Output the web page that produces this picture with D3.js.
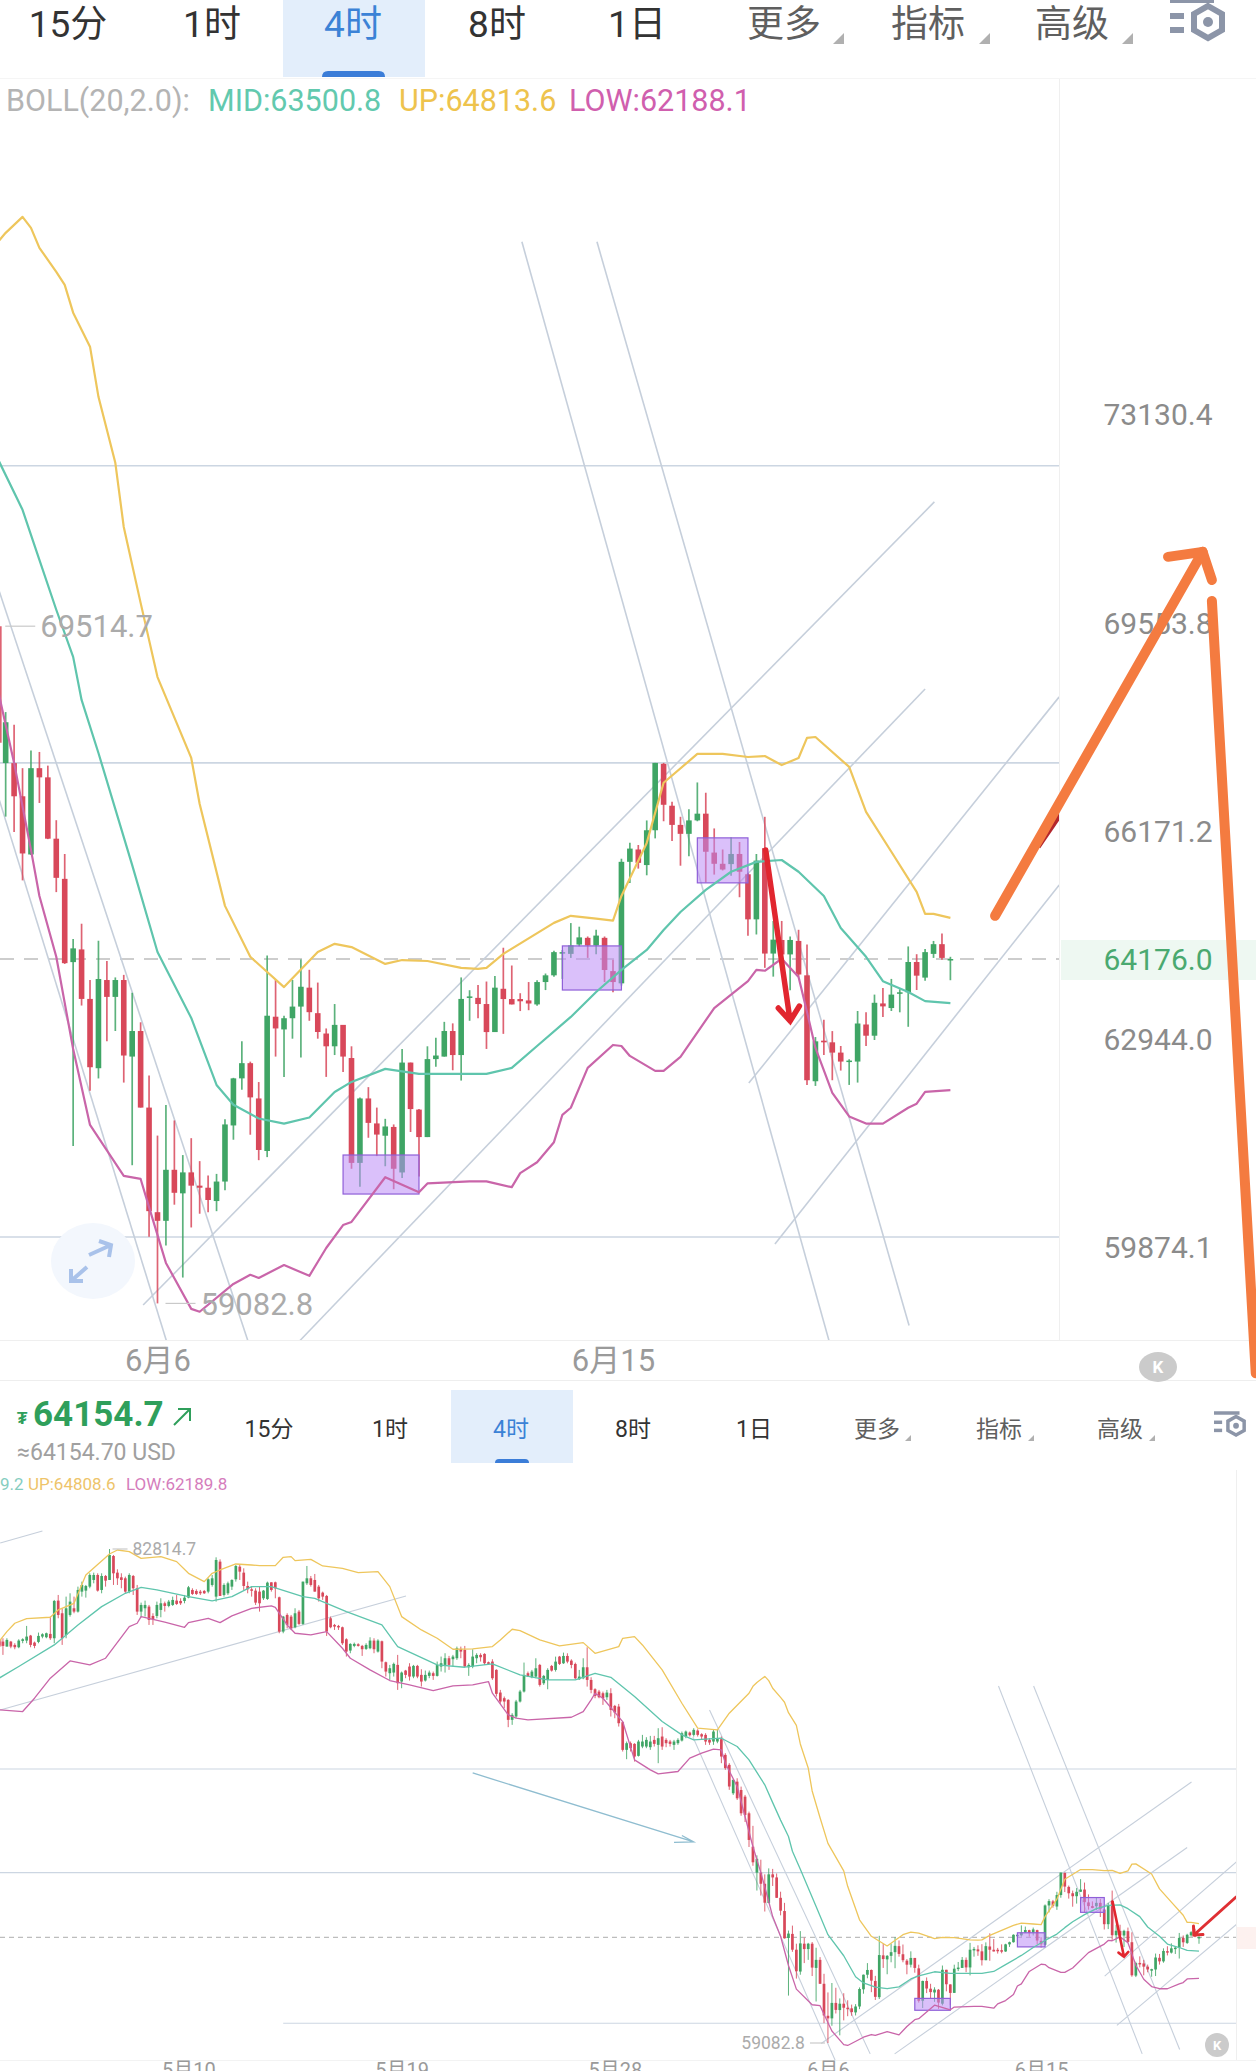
<!DOCTYPE html>
<html lang="zh">
<head>
<meta charset="utf-8">
<title>BTC/USDT 4时 K线 BOLL</title>
<script src="https://cdn.jsdelivr.net/npm/d3@7/dist/d3.min.js"></script>
<style>
  html, body { margin: 0; padding: 0; background: #fff; overflow: hidden; }
  svg { display: block; }
  text { font-family: Roboto, "Noto Sans CJK SC", sans-serif; }
</style>
</head>
<body>
<svg id="chart" width="1256" height="2071" viewBox="0 0 1256 2071"></svg>
<script>
// 4-hour candles as [open, close, high, low], oldest first.
const candlesMayEarly = [
[78367,78207,78479,78127],[78367,78159,78527,77727],[78127,78447,78527,78127],[78367,78127,78399,78047],[78207,78095,78287,77999],
[78095,78415,78479,78047],[78399,78479,78527,78287],[78415,78607,79119,78287],[78655,78207,78687,78095],[78319,78159,78367,78047],
[78351,78639,78799,78287],[78607,78719,78767,78527],[78575,78767,78799,78527],[78735,78527,79567,78447],[78527,80319,80367,78287],
[80335,79647,80607,79487],[79727,78527,79967,78207],[78687,79967,80527,78527],[79647,80287,80687,79567],[79967,79807,80527,79727],
[79807,80847,81007,79759],[80767,81087,81247,80527],[80815,81039,81087,80479],[81007,81567,81647,80927],[81327,81567,81679,81167],
[81567,80815,81647,80767],[80847,81519,81647,80687],[81519,81295,81567,81007],[81327,82527,82814.7,81327],[82479,81647,82527,81087],
[81679,81407,81839,81087],[81455,81327,81647,80927],[81407,80767,81487,80687],[80767,81567,81647,80687],[81519,80927,81567,80607],
[80927,79807,81087,79647],[79807,80127,80239,79535],[79967,80127,80335,79567],[80047,79407,80127,79167],[79599,79439,79727,79167],
[79599,80127,80287,79487],[79887,80207,80447,79535],[80207,80079,80287,79807],[80079,80287,80367,80015],[80127,80367,80527,80079],
[80335,80175,80607,80127],[80319,80207,80447,80127],[80319,80479,80607,80207],[80479,80975,81039,80447],[80847,80655,80927,80607],
[80799,80655,80879,80607],[80767,80687,80847,80607],[80799,80687,80847,80655],[80767,81359,81407,80687],[81087,81407,81567,81007],
[80527,82287,82415,80287],[82207,80559,82319,80559],[80607,81087,81167,80527],[80687,81167,81247,80607],[81007,81327,81359,80847],
[81359,81999,82047,81247],[81967,81727,82047,81327],[81679,81039,81887,80847],[81039,80879,81247,80687],[80879,80815,81007,80527],
[80815,80239,80927,80127],[80767,80207,81007,79807],[80447,80815,80847,80367]
];
const candlesMayMid = [
[80415,81199,81247,80367],[81215,80847,81215,80767],[81215,80927,81247,80447],[80495,78847,80527,78767],[78847,79567,79599,78767],
[79647,79167,79727,79007],[79567,79007,79647,78927],[79055,79727,79967,79007],[79807,79215,79887,79167],[79215,81247,81247,79167],
[81167,81407,81999,81087],[81407,81087,81519,81007],[81327,80767,81615,80767],[81007,80447,81087,80287],[80719,80527,80767,80367],
[80559,78847,80607,78639],[79487,79055,79567,79007],[79167,79087,79215,78927],[79119,79055,79167,78927],[79055,78287,79087,78207],
[78479,77887,78527,77647],[77935,78255,78287,77807],[78159,78255,78319,78095],[78239,78159,78287,78127],[78159,77999,78207,77679],
[78015,78207,78287,77967],[78047,78415,78575,77999],[78415,77999,78527,77807],[77887,78415,78479,77839],[78383,77407,78415,77087],
[77375,76927,77407,76687],[76847,77087,77247,76527],[76879,77295,77359,76687],[77247,76367,77727,76047],[76447,76879,76927,76127],
[76975,76767,77007,76607],[77167,76687,77327,76495],[76687,77199,77247,76607],[77199,76687,77247,76607],[76767,76447,77039,76207],
[76495,76767,76975,76447],[76719,76879,76975,76607],[76847,76719,76927,76527],[76719,77247,77407,76687],[77167,77327,77647,76927],
[77247,77567,77807,76879],[77567,77247,77679,77007],[77519,77647,77727,77167],[77567,78047,78127,77487],[78015,77887,78127,77567],
[77967,77167,78159,77135],[77135,77247,77327,76719],[77167,77647,77999,77087],[77567,77727,77807,77327],[77727,77615,77807,77407],
[77775,77327,77807,77247],[77375,77295,77407,77247],[77407,76607,77519,76527],[77007,75855,77039,75727],[75919,75487,76047,75375],
[75647,75487,75727,75167],[75567,74607,75599,74255],[74607,74847,74927,74367],[74767,75487,75567,74687],[75487,75967,76047,75439],
[75967,76767,77359,75919],[76847,76687,76927,76687]
];
const candlesMayLate = [
[76653,76925,77005,76605],[76685,77085,77565,76605],[77245,76285,77293,76205],[76365,76717,76765,76285],[76525,77005,77085,76077],
[77197,76973,77245,76925],[77005,77405,77645,76925],[77645,77293,77677,77245],[77325,77677,77837,77293],[77677,77405,77805,77325],
[77453,77245,77517,77085],[77293,76605,77357,76557],[76557,76685,77005,76525],[76605,77133,77565,76557],[77133,76525,78093,76205],
[76525,76045,76653,75885],[76077,75757,76125,75645],[75965,75693,76045,75645],[75885,75645,75965,75325],[75693,75917,76045,75565],
[75885,75085,76125,74765],[75277,74957,75325,74685],[75245,74445,75373,74285],[74493,73165,74525,73085],[73165,73485,73565,72717],
[73485,73245,73565,73085],[73453,72845,73485,72605],[72877,73565,73645,72845],[73325,73565,73885,73245],[73325,73645,73773,73245],
[73293,73565,73837,73165],[73645,73453,73837,73325],[73405,73725,74205,72525],[73805,73325,74253,73165],[73645,73485,73725,73293],
[73565,73453,73645,73325],[73405,73565,73645,73165],[73485,73645,73725,73405],[73613,73965,74045,73565],[73805,74045,74093,73725],
[73997,73869,74045,73805],[73885,74125,74205,73805],[74093,73885,74157,73805],[73917,73805,73965,73645],[73885,73565,73965,73405],
[73645,73517,73725,73405],[73565,74045,74125,73405],[73565,73725,74125,73485],[73677,72845,73805,72525],[72925,72285,73005,72205],
[72445,71405,72525,71245],[71080,71720,71760,71000],[71638,70838,71800,70758],[71238,70118,71400,70000],[70918,70038,71000,69700],
[70118,68837,70200,68500]
];
const candlesJuneDrop = [
[68513,67764,69514.7,67596],[67267,67930,68096,66408],[67267,66733,67888,66165],[66733,65823,67185,65399],[65807,67185,67472,65799],
[67185,67037,67447,66626],[67037,66057,67226,66050],[66057,65439,66351,65215],[65423,64112,65815,64100],[64128,64340,64485,61360],
[64324,63564,64722,63463],[63564,62530,63853,62178],[62515,63869,64458,62362],[63853,63595,64144,62922],[63595,63853,63893,63076],
[63853,62706,63932,62300],[62690,63076,63658,61076],[63076,61927,63208,61927],[61927,60406,62406,60037],[60391,60266,61512,59082.8],
[60266,61009,61965,59911],[61009,60673,61736,60500],[60665,60971,61225,59451],[60971,60777,61474,60170],[60777,60747,61136,60369],
[60747,60568,60927,60391],[60553,60837,60949,60406],[60837,61677,61753,60710],[61662,62363,62371,61451],[62363,62591,62921,62193],
[62591,62079,62614,61525],[62063,61300,62308,61150],[61285,63308,64230,61195],[63293,63115,63853,62690],[63100,63270,63308,62385],
[63270,63447,63853,62960],[63447,63750,64167,62675],[63736,63362,64010,63231],[63347,63061,63814,62960],[63038,62845,63115,62385],
[62845,63169,63486,62713],[63169,62690,63169,62460],[62668,61110,62845,61024],[61110,62063,62078,60762],[62063,61700,62232,61480],
[61692,61527,61927,61210],[61510,61647,61760,61061],[61640,61024,61677,60725],[60970,62600,62805,60890],[62600,61905,62600,61565],
[61897,61490,61905,60910],[61490,62652,62845,61490],[62652,62706,62975,62538],[62690,63076,63215,62690],[63076,62713,63192,62485],
[62713,63564,63893,62330],[63580,63602,63697,63231],[63580,63486,63775,63270],[63486,63060,63830,62805],[63060,63736,63916,63060]
];
const candlesJuneRebound = [
[63719,63562,64350,63033],[63562,63480,64076,63480],[63562,63528,63651,63379],[63541,63494,63822,63392],[63480,63822,63850,63460],
[63822,63925,63953,63699],[63925,64282,64302,63905],[64262,64282,64316,63870],[64255,64385,64732,64193],[64399,64510,64676,64371],
[64503,64385,64524,64193],[64385,64538,64628,64248],[64503,64007,64524,63822],[63990,63822,64165,63665],[63802,65691,65740,63768],
[65691,65900,65992,65356],[65886,65675,65957,65584],[65640,66191,66347,65479],[66191,67270,67270,66062],[67255,66597,67270,66334],
[66582,66276,66647,66020],[66276,66134,66405,65630],[66134,66348,66525,65780],[66348,66455,66955,66334],[66455,65850,66790,65365],
[65837,65660,66220,65490],[65660,65570,65886,65555],[65655,65815,66077,65470],[65815,65535,66005,65135],[65495,64790,65510,64535],
[64790,65710,65815,64555],[65907,64260,66405,64040],[64260,64475,64765,63905],[64470,64247,64765,64040],[64247,64470,64524,63695],
[64455,63938,64628,63905],[63925,62335,64400,62265],[62320,62920,62985,62250],[62930,62905,63245,62715],[62905,62750,63075,62335],
[62750,62615,62850,62480],[62615,62630,62650,62265],[62615,63190,63380,62300],[63175,63005,63360,62850],[63005,63505,63630,62940],
[63495,63450,63730,63290],[63425,63630,63870,63380],[63645,63665,63712,63360],[63665,64130,64370,63140],[64130,63920,64250,63700],
[63890,64282,64330,63840],[64255,64405,64455,64193],[64405,64193,64570,64165],[64160,64176,64210,63850]
];

// Bollinger band vertices as [candle number, price].
const bollUp = [
[0,78367],[2,78847],[4,79247],[7,79471],[13,79535],[15,79887],[19,80207],[22,81567],[28,82575],[30,82767],[33,82687],[36,82367],
[41,82447],[45,82207],[48,81647],[52,81247],[54,81647],[56,81807],[60,82095],[64,82047],[66,82015],[70,82015],[72,82415],[74,82447],
[75,82255],[79,82319],[82,82000],[87,81887],[91,81679],[96,81727],[99,81007],[102,79567],[107,78927],[111,78527],[115,77999],
[120,78015],[125,78127],[127,78447],[130,78959],[132,78893],[137,78445],[142,78157],[148,78317],[151,77805],[157,78125],[158,78525],
[161,78605],[163,78205],[168,77005],[173,75405],[177,74205],[182,74125],[185,74925],[190,75885],[191,76217],[192,76400],[194,76694],
[195,76490],[196,76125],[198,75688],[199,75452],[200,74950],[202,74340],[203,73450],[205,72295],[206,71190],[208,69905],[210,68670],
[214,67350],[215,66610],[218,65000],[221,64210],[225,63745],[229,64285],[231,64410],[233,64360],[237,64100],[239,64160],[242,64145],
[246,64040],[248,64025],[249,64040],[251,64255],[257,64735],[259,64845],[262,64800],[264,64770],[265,65155],[268,65990],[270,66950],
[274,67415],[277,67415],[280,67365],[282,67380],[284,67235],[286,67350],[287,67675],[288,67690],[292,67205],[294,66485],[297,65850],
[300,65220],[301,64875],[302,64875],[304,64813.6]
];
const bollMid = [
[0,76607],[5,77167],[14,78207],[20,79167],[26,80047],[32,80687],[36,80975],[40,80847],[48,80527],[54,80319],[59,80527],[64,81007],
[69,81007],[77,80527],[80,80447],[88,79807],[97,79167],[101,78127],[111,77247],[118,77135],[125,77295],[132,76765],[139,76525],
[146,76525],[151,76845],[155,76653],[161,75725],[168,74525],[173,73885],[176,73645],[183,73725],[187,73325],[190,72685],[191,72385],
[194,71485],[196,70630],[198,69790],[200,69005],[201,68295],[203,67430],[207,65640],[210,64285],[214,63275],[217,62265],[219,61970],
[222,61765],[225,61690],[228,61780],[231,62160],[233,62310],[237,62505],[241,62430],[246,62430],[249,62430],[252,62520],[255,62850],
[259,63290],[262,63670],[265,64010],[268,64316],[270,64625],[272,64905],[275,65250],[278,65535],[281,65690],[284,65720],[286,65535],
[289,65155],[291,64655],[294,64210],[296,63835],[299,63670],[301,63530],[304,63500.8]
];
const bollLow = [
[0,75087],[6,75007],[9,75647],[13,76607],[18,77439],[23,77247],[27,77567],[33,79087],[35,79247],[36,79567],[42,79300],[47,79055],
[48,79279],[53,79487],[56,79279],[59,79599],[64,79967],[69,80079],[70,80015],[73,79167],[75,78767],[79,78687],[83,78847],[87,78047],
[89,77567],[94,77007],[99,76495],[104,76287],[110,76015],[115,76239],[120,76287],[124,76447],[125,75887],[129,74847],[131,74687],
[134,74607],[145,74733],[148,75005],[150,75565],[151,75885],[153,75645],[158,74525],[161,72685],[165,72205],[167,72013],[172,72125],
[175,72765],[178,73005],[181,73197],[183,73165],[184,72525],[187,71405],[191,68510],[193,67270],[195,65880],[196,65155],[198,64210],
[200,62805],[202,61670],[206,60920],[208,60875],[209,60465],[211,59660],[214,59005],[215,58965],[219,59360],[221,59490],[222,59445],
[225,59630],[228,59475],[230,59874],[232,60205],[233,60250],[237,60900],[241,60680],[242,60810],[247,60840],[249,60840],[252,60755],
[253,60960],[255,61120],[257,61415],[258,61820],[259,61925],[261,62520],[264,62865],[265,62850],[266,62700],[269,62475],[270,62475],
[272,62685],[276,63425],[280,63835],[281,64010],[282,63995],[284,64180],[286,63900],[287,63365],[288,62820],[290,62145],[292,61795],
[294,61690],[296,61690],[299,61925],[300,61985],[301,62160],[304,62188.1]
];

// Axis labels and chart annotations, all in candle number / price terms.
const upperPriceTicks = [73130.4, 69553.8, 66171.2, 62944.0, 59874.1];
const lastPriceUpper = 64176.0;
const lastPriceLower = 64154.7;
const dateTickCandles = [48, 102, 156, 210, 264];
const dateTickLabels = ["5月10", "5月19", "5月28", "6月6", "6月15"];
const levelPrices = [72244, 67270, 60033];
const levelStartLower = [0, 0, 72];
const channelLines = [
  [[175.8,73780],[211.8,58270]], [[180,75080],[220.7,58560]],
  [[253.2,76235],[289.6,58560]], [[262.1,76235],[299.1,58770]],
  [[208.3,59060],[302.1,71620]], [[226.9,58560],[301,68475]],
  [[280.1,62292],[316.9,68345]], [[283.2,59932],[316.9,65328]]
];
const trendLinesEarly = [
  [[0.3,83100],[11,83680]], [[0.3,75080],[103.1,80557]]
];
const flowArrow = [[120,72054],[176,68740]];
const flowArrowHead = [[171,68720],[176,68740],[173,69050]];
const consolidationBoxes = [
  [232,241,61226,60655], [258,265,64378,63700], [274,280,66070,65360]
];
const dropArrow = [[282.1,65879],[285,63228]];
const dropArrowHead = [[283.6,63425],[285,63228],[286.1,63455]];
const hiddenTrace = [[314.4,65926],[317,66436]];
const lowerRiseArrow = [[302.7,64271],[313.4,66097]];
const lowerRiseHead = [[302.6,64700],[302.7,64271],[305,64290]];
const projectionRise = [[309.3,64845],[333.9,70766]];
const projectionRiseHead = [[329.8,70682],[333.9,70766],[335,70290]];
const projectionFall = [[335,69938],[340.2,58100]];
const tabLabels = ["15分", "1时", "4时", "8时", "1日", "更多", "指标", "高级"];

const candles = [...candlesMayEarly, ...candlesMayMid, ...candlesMayLate, ...candlesJuneDrop, ...candlesJuneRebound]
  .map((r, i) => ({ i, open: r[0], close: r[1], high: r[2], low: r[3] }));

const UP_COLOR = "#3fa565", DOWN_COLOR = "#d8485a";
const svg = d3.select("#chart");
svg.append("rect").attr("width", 1256).attr("height", 2071).attr("fill", "#fff");
const defs = svg.append("defs");
defs.append("clipPath").attr("id", "clipUpper").append("rect").attr("x", 0).attr("y", 130).attr("width", 1059).attr("height", 1210);
defs.append("clipPath").attr("id", "clipLower").append("rect").attr("x", 0).attr("y", 1470).attr("width", 1236).attr("height", 591);

// Scales: the large panel is logarithmic and zoomed in, the small one linear and full range.
const xUpper = d3.scaleLinear().domain([191, 304]).range([-2.77, 950.4]);
const yUpper = d3.scaleLog().domain([59874.1, 73130.4]).range([1248, 415]);
const xLower = d3.scaleLinear().domain([0, 304]).range([-1, 1199]);
const yLower = d3.scaleLinear().domain([59082.8, 82814.7]).range([2043, 1549]);

function drawTabs(g, o) {
  g.append("rect").attr("x", o.hi[0]).attr("y", o.hi[1]).attr("width", o.hi[2]).attr("height", o.hi[3]).attr("fill", "#e3eefb");
  g.append("path").attr("fill", "#3b7dd8")
    .attr("d", `M${o.bar[0]},${o.bar[1] + o.bar[3]}q0,${-o.bar[3]} ${o.bar[3]},${-o.bar[3]}h${o.bar[2] - 2 * o.bar[3]}q${o.bar[3]},0 ${o.bar[3]},${o.bar[3]}z`);
  g.selectAll("text.tab").data(tabLabels).join("text").attr("class", "tab")
    .attr("x", (d, i) => o.cx[i]).attr("y", o.y).attr("text-anchor", "middle")
    .attr("font-size", o.size).attr("font-family", "'Noto Sans CJK SC'")
    .attr("fill", (d, i) => i === 2 ? "#3b82d6" : i > 4 ? "#5f5f5f" : "#333");
  g.selectAll("text.tab").text(d => d);
  g.selectAll("path.tri").data(o.tri).join("path").attr("class", "tri").attr("fill", "#b0b0b0")
    .attr("d", d => `M${d[0]},${d[1] + d[2]}h${d[2]}v${-d[2]}z`);
  const ic = g.append("g").attr("transform", `translate(${o.icon[0]},${o.icon[1]}) scale(${o.icon[2]})`);
  ic.selectAll("rect").data([0, 16, 30]).join("rect").attr("x", 0).attr("y", d => d - 3)
    .attr("width", (d, i) => i === 1 ? 14 : i === 2 ? 14 : 44).attr("height", 6).attr("fill", "#8c95a8");
  ic.append("path").attr("fill", "none").attr("stroke", "#8c95a8").attr("stroke-width", 6)
    .attr("d", "M38,6l14,8v16l-14,8l-14,-8v-16z");
  ic.append("circle").attr("cx", 38).attr("cy", 22).attr("r", 5).attr("fill", "#8c95a8");
}

function drawPanel(o) {
  const g = svg.append("g");
  const plot = g.append("g").attr("clip-path", `url(#${o.clip})`);
  const { x, y } = o;

  // Horizontal levels and current price line
  plot.selectAll("line.level").data(levelPrices).join("line").attr("class", "level")
    .attr("x1", (d, i) => o.levelStart ? x(levelStartLower[i]) : 0).attr("x2", o.right)
    .attr("y1", d => y(d)).attr("y2", d => y(d))
    .attr("stroke", "#ccd6e2").attr("stroke-width", o.levelW);
  plot.append("line").attr("x1", 0).attr("x2", o.right).attr("y1", y(o.last)).attr("y2", y(o.last))
    .attr("stroke", "#bdbdbd").attr("stroke-width", o.levelW).attr("stroke-dasharray", o.dash);

  // Hand-drawn channels
  const seg = d3.line().x(d => x(d[0])).y(d => y(d[1]));
  plot.selectAll("path.channel").data([...channelLines, ...trendLinesEarly]).join("path").attr("class", "channel")
    .attr("d", seg).attr("fill", "none").attr("stroke", "#c6cfdb").attr("stroke-width", o.levelW);
  plot.append("path").attr("d", seg(flowArrow) + seg(flowArrowHead)).attr("fill", "none").attr("stroke", "#8fbdd0").attr("stroke-width", 1.3);

  // Candles; a wick sitting on the panel's left edge stays just inside it
  const bw = o.bodyW;
  const wickX = d => Math.max(0.8, x(d.i));
  const marks = plot.selectAll("g.candle").data(candles.filter(c => x(c.i) > -10)).join("g").attr("class", "candle");
  marks.append("line").attr("x1", wickX).attr("x2", wickX)
    .attr("y1", d => y(d.high)).attr("y2", d => y(d.low))
    .attr("stroke", d => d.close >= d.open ? UP_COLOR : DOWN_COLOR).attr("stroke-width", o.wickW).attr("stroke-opacity", .85);
  marks.append("rect").attr("x", d => x(d.i) - bw / 2).attr("width", bw)
    .attr("y", d => y(Math.max(d.open, d.close)))
    .attr("height", d => Math.max(1.5, Math.abs(y(d.open) - y(d.close))))
    .attr("fill", d => d.close >= d.open ? UP_COLOR : DOWN_COLOR);

  // Consolidation boxes
  plot.selectAll("rect.box").data(consolidationBoxes).join("rect").attr("class", "box")
    .attr("x", d => x(d[0])).attr("width", d => x(d[1]) - x(d[0]))
    .attr("y", d => y(d[2])).attr("height", d => y(d[3]) - y(d[2]))
    .attr("fill", "#bc8cf5").attr("fill-opacity", .55).attr("stroke", "#8f5fd8").attr("stroke-width", 1.2);

  // Bollinger bands
  const band = d3.line().x(d => x(d[0])).y(d => y(d[1]));
  [[bollUp, "#eec65c"], [bollMid, "#5fc5ad"], [bollLow, "#c965a9"]].forEach(([pts, col]) => {
    plot.append("path").datum(pts.filter(d => x(d[0]) > -40)).attr("d", band)
      .attr("fill", "none").attr("stroke", col).attr("stroke-width", o.bandW).attr("stroke-linejoin", "round");
  });

  // Drop arrow
  plot.append("path").attr("d", seg(dropArrow) + seg(dropArrowHead)).attr("fill", "none")
    .attr("stroke", "#e1262f").attr("stroke-width", o.arrowW).attr("stroke-linecap", "round");

  // High and low callouts
  const hi = candles.find(c => c.high === o.calloutHigh);
  const lo = candles.find(c => c.low === 59082.8);
  const fmt = d3.format(".1f");
  [[hi, hi.high, false], [lo, lo.low, o.lowOnLeft]].forEach(([c, v, left]) => {
    const cy = y(v);
    const dir = left ? -1 : 1;
    const x1 = x(c.i) + dir * o.calloutGap[0];
    const x2 = x1 + dir * o.calloutGap[1];
    g.append("line").attr("x1", x1).attr("x2", x2).attr("y1", cy).attr("y2", cy).attr("stroke", "#c9c9c9").attr("stroke-width", 1.2);
    g.append("text").attr("x", x2 + dir * 5).attr("y", cy + o.calloutSize * .36)
      .attr("text-anchor", left ? "end" : "start")
      .attr("font-size", o.calloutSize).attr("fill", "#ababab").text(fmt(v));
  });

  return { g, plot, seg };
}

// ---- large panel ----
drawTabs(svg.append("g"), {
  hi: [283, 0, 142, 77], bar: [322, 71, 63, 6],
  cx: [68, 212, 353, 497, 637, 784, 928, 1072], y: 37, size: 37,
  tri: [[833, 33, 11], [979, 33, 11], [1122, 33, 11]], icon: [1170, 0, 1]
});
[["BOLL(20,2.0):", 6, "#b4b4b4"], ["MID:63500.8", 208, "#62c9ae"], ["UP:64813.6", 399, "#eec34d"], ["LOW:62188.1", 569, "#d05fae"]]
  .forEach(([t, px, col]) => svg.append("text").attr("x", px).attr("y", 111).attr("font-size", 30.5).attr("fill", col).text(t));

svg.append("rect").attr("x", 1061).attr("y", 940).attr("width", 195).attr("height", 40).attr("fill", "#eef8f2");
svg.append("line").attr("x1", 1059.5).attr("x2", 1059.5).attr("y1", 78).attr("y2", 1340).attr("stroke", "#efefef");
svg.append("line").attr("x1", 0).attr("x2", 1256).attr("y1", 78.5).attr("y2", 78.5).attr("stroke", "#f5f5f5");
svg.append("line").attr("x1", 0).attr("x2", 1256).attr("y1", 1340.5).attr("y2", 1340.5).attr("stroke", "#efefef");
svg.append("line").attr("x1", 0).attr("x2", 1256).attr("y1", 1380.5).attr("y2", 1380.5).attr("stroke", "#eeeeee");

const upperAxis = d3.axisRight(yUpper).tickValues(upperPriceTicks).tickSize(0).tickPadding(99).tickFormat(d3.format(".1f"));
const upperAxisG = svg.append("g").attr("transform", "translate(1059,0)").call(upperAxis);
upperAxisG.select(".domain").remove();
upperAxisG.selectAll("text").attr("text-anchor", "middle").attr("font-size", 30).attr("fill", "#8b8b8b").attr("font-family", "Roboto");
svg.append("text").attr("x", 1158).attr("y", yUpper(lastPriceUpper) + 11).attr("text-anchor", "middle")
  .attr("font-size", 30).attr("fill", "#4aa970").text(d3.format(".1f")(lastPriceUpper));

const upperDates = d3.axisBottom(xUpper).tickValues(dateTickCandles.slice(3)).tickSize(0)
  .tickFormat(d => dateTickLabels[dateTickCandles.indexOf(d)]);
const upperDatesG = svg.append("g").attr("transform", "translate(0,1346)").call(upperDates);
upperDatesG.select(".domain").remove();
upperDatesG.selectAll("text").attr("font-size", 31).attr("fill", "#9a9a9a").attr("font-family", "Roboto, 'Noto Sans CJK SC'");

const upperPanel = drawPanel({
  x: xUpper, y: yUpper, clip: "clipUpper", right: 1059, last: lastPriceUpper, levelW: 1.6, dash: "14 10",
  bodyW: 5.6, wickW: 1.7, bandW: 2.2, arrowW: 5.5, calloutHigh: 69514.7, calloutGap: [8, 30], calloutSize: 31
});
upperPanel.plot.append("path").attr("d", upperPanel.seg(hiddenTrace)).attr("stroke", "#b3262c").attr("stroke-width", 5);

// Reset-view control
const expand = svg.append("g").attr("transform", "translate(93,1261)");
expand.append("ellipse").attr("rx", 42).attr("ry", 38).attr("fill", "#f3f7fd");
expand.append("path").attr("fill", "none").attr("stroke", "#a9c2ea").attr("stroke-width", 4)
  .attr("d", "M-4,-6L18,-16M6,-20L18,-16L16,-4M-6,6L-22,20M-22,8L-22,20L-10,20");

function kButton(cx, cy, rx, ry, size) {
  const k = svg.append("g").attr("transform", `translate(${cx},${cy})`);
  k.append("ellipse").attr("rx", rx).attr("ry", ry).attr("fill", "#cbcbcb");
  k.append("text").attr("y", size * .36).attr("text-anchor", "middle").attr("font-size", size).attr("font-weight", 700).attr("fill", "#fff").text("K");
}
kButton(1158, 1367, 19, 15, 17);

// ---- small panel ----
svg.append("text").attr("x", 17).attr("y", 1424).attr("font-size", 17).attr("font-weight", 700).attr("fill", "#2f9f5b").text("₮");
svg.append("text").attr("x", 33).attr("y", 1426).attr("font-size", 35).attr("font-weight", 700).attr("fill", "#2f9f5b").text(d3.format(".1f")(lastPriceLower));
svg.append("path").attr("fill", "none").attr("stroke", "#2f9f5b").attr("stroke-width", 2).attr("d", "M174,1425L190,1409M178,1409L190,1409L190,1421");
svg.append("text").attr("x", 17).attr("y", 1460).attr("font-size", 23).attr("fill", "#a0a0a0").text("≈64154.70 USD");
drawTabs(svg.append("g"), {
  hi: [451, 1390, 122, 73], bar: [495, 1459, 34, 4],
  cx: [269, 390, 511, 633, 754, 877, 999, 1120], y: 1437, size: 23,
  tri: [[905, 1435, 6], [1028, 1435, 6], [1149, 1435, 6]], icon: [1214, 1413, .58]
});
[["9.2", 0, "#86cdbf"], ["UP:64808.6", 28, "#eec46a"], ["LOW:62189.8", 126, "#d57dbc"]]
  .forEach(([t, px, col]) => svg.append("text").attr("x", px).attr("y", 1490).attr("font-size", 17).attr("fill", col).text(t));

svg.append("rect").attr("x", 1237).attr("y", 1927).attr("width", 19).attr("height", 22).attr("fill", "#fdf1ef");
svg.append("line").attr("x1", 1236.5).attr("x2", 1236.5).attr("y1", 1470).attr("y2", 2060).attr("stroke", "#efefef");
svg.append("line").attr("x1", 0).attr("x2", 1256).attr("y1", 2060.5).attr("y2", 2060.5).attr("stroke", "#f3f3f3");

const lowerDates = d3.axisBottom(xLower).tickValues(dateTickCandles).tickSize(0)
  .tickFormat(d => dateTickLabels[dateTickCandles.indexOf(d)]);
const lowerDatesG = svg.append("g").attr("transform", "translate(0,2060)").call(lowerDates);
lowerDatesG.select(".domain").remove();
lowerDatesG.selectAll("text").attr("font-size", 20).attr("fill", "#9a9a9a").attr("font-family", "Roboto, 'Noto Sans CJK SC'");

const lowerPanel = drawPanel({
  x: xLower, y: yLower, clip: "clipLower", right: 1236, last: lastPriceLower, levelW: 1.1, dash: "5 4", levelStart: true,
  bodyW: 2.7, wickW: 1, bandW: 1.3, arrowW: 2.6, calloutHigh: 82814.7, calloutGap: [3, 15], calloutSize: 17.5, lowOnLeft: true
});
lowerPanel.plot.append("path").attr("d", lowerPanel.seg(lowerRiseArrow) + lowerPanel.seg(lowerRiseHead)).attr("fill", "none")
  .attr("stroke", "#df2f33").attr("stroke-width", 3).attr("stroke-linecap", "round");
kButton(1217, 2045, 12, 12, 13);

// Projected path drawn over both panels
const projection = d3.line().x(d => xUpper(d[0])).y(d => yUpper(d[1]));
[projectionRise, projectionRiseHead, projectionFall].forEach(pts => {
  svg.append("path").attr("d", projection(pts)).attr("fill", "none").attr("stroke", "#f47b40")
    .attr("stroke-width", 10).attr("stroke-linecap", "round").attr("stroke-linejoin", "round");
});
</script>
</body>
</html>
